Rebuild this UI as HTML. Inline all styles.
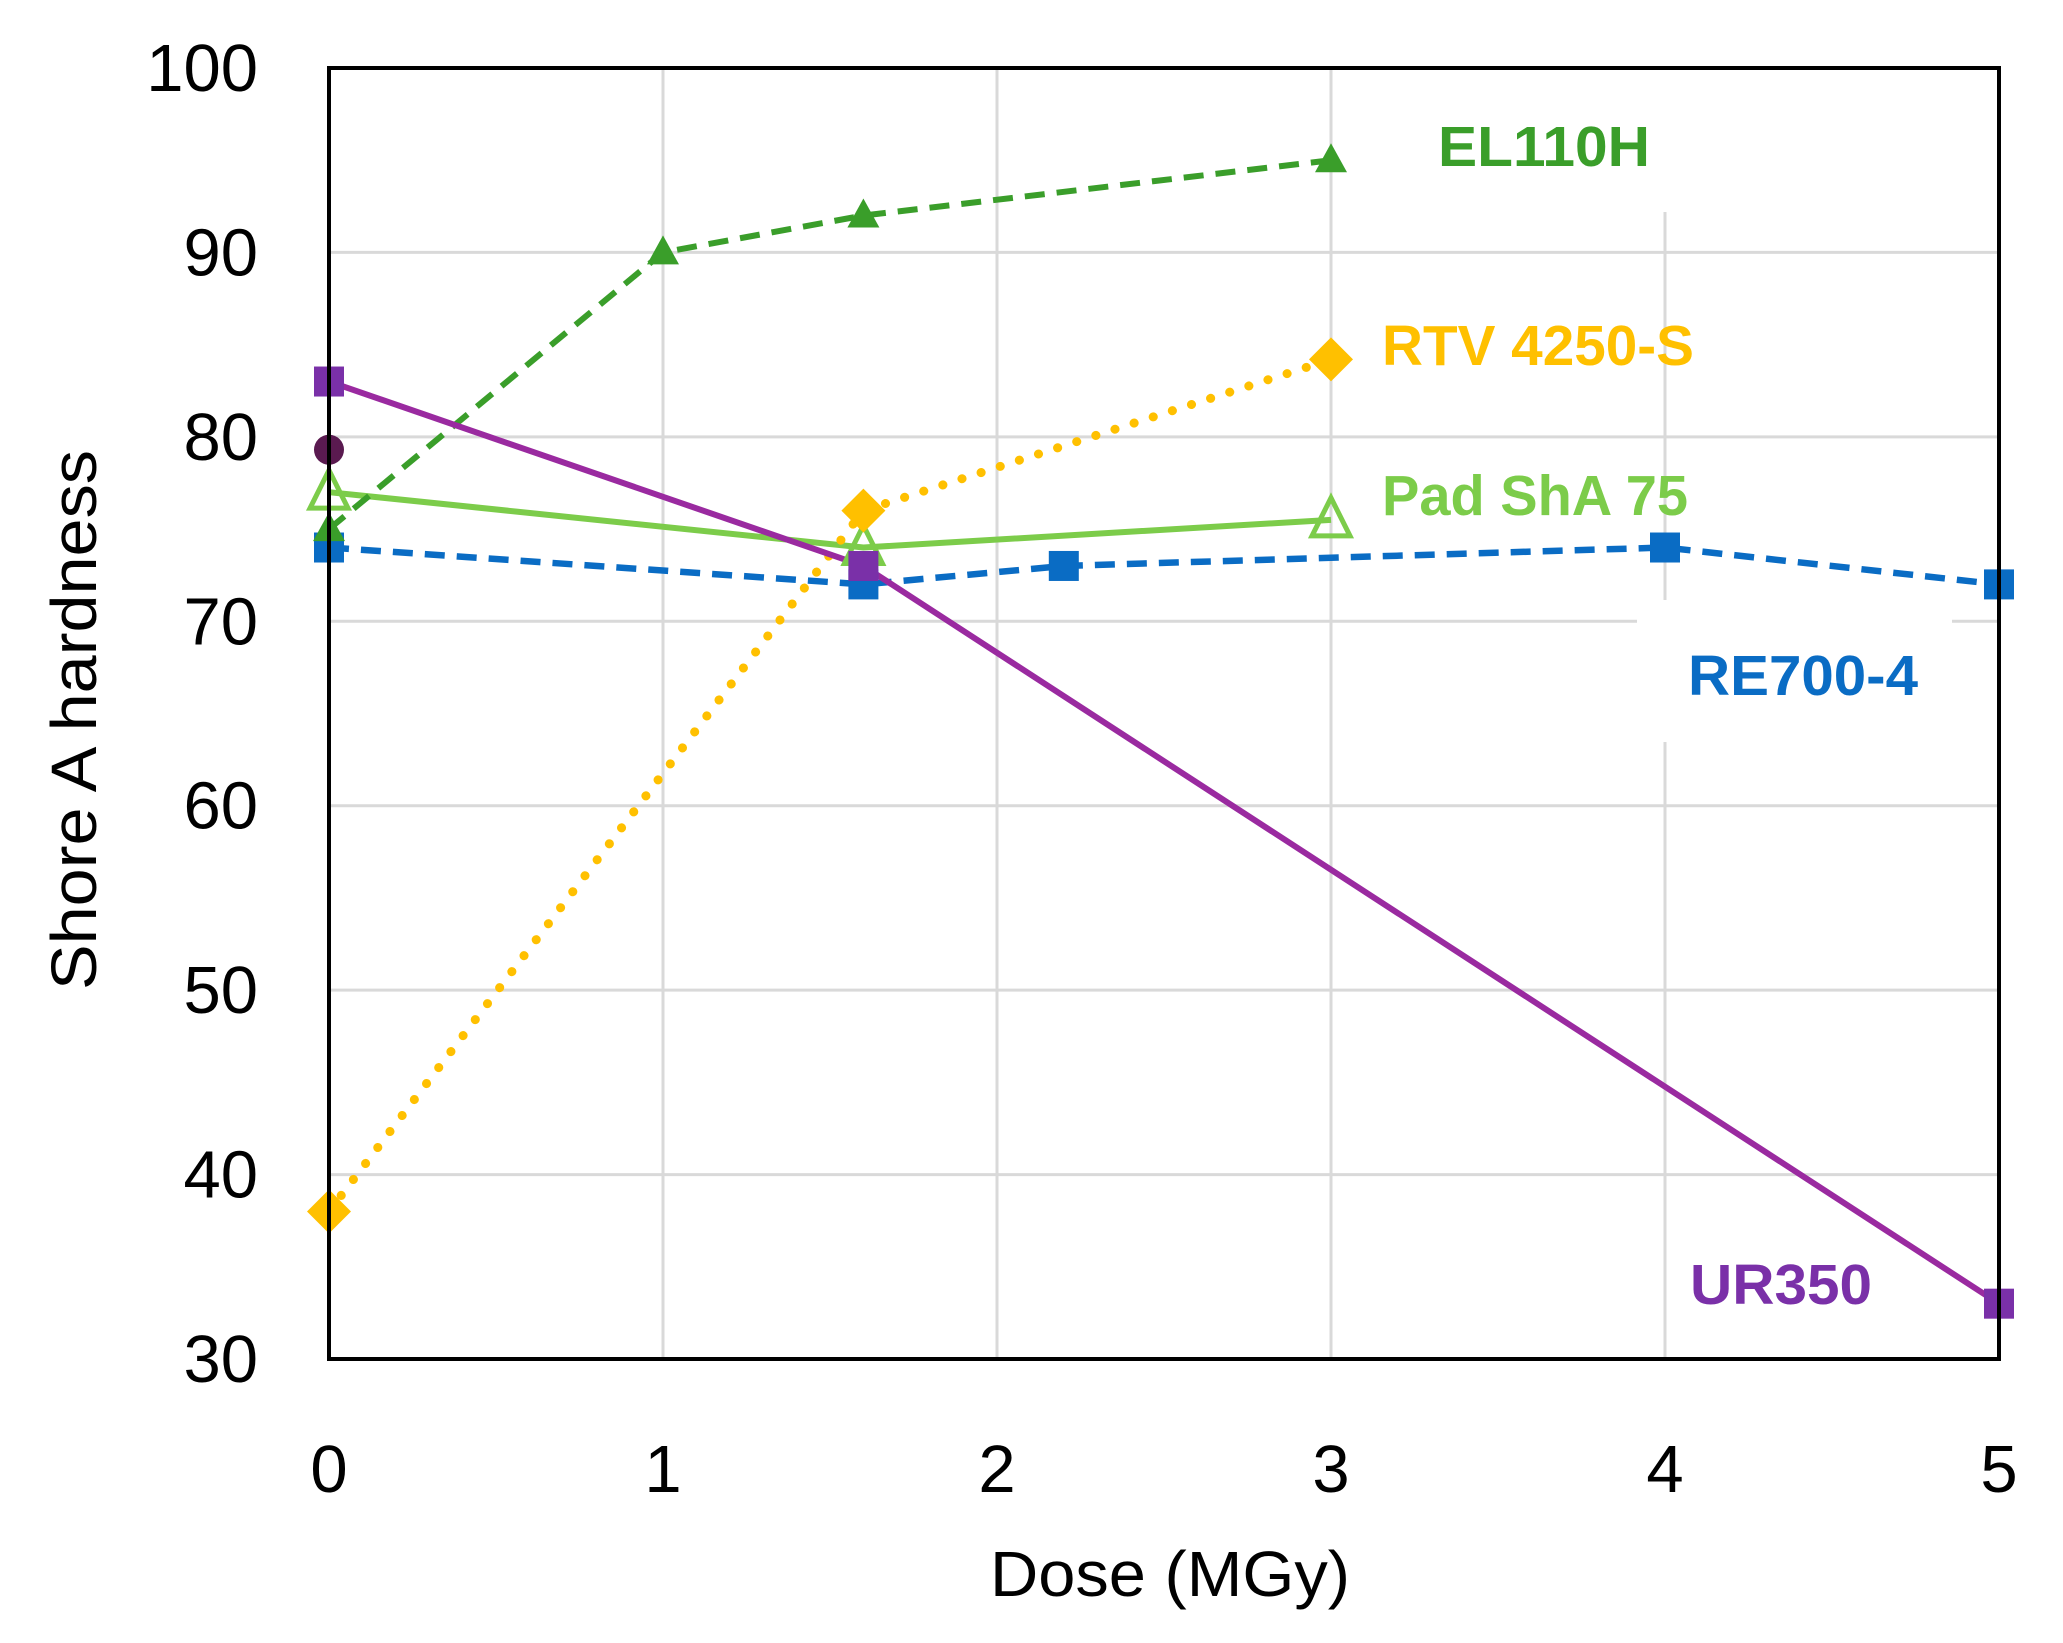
<!DOCTYPE html>
<html><head><meta charset="utf-8"><style>
html,body{margin:0;padding:0;background:#fff}
svg{display:block}
text{font-family:"Liberation Sans",sans-serif}
</style></head><body>
<svg id="chart" width="2063" height="1643" viewBox="0 0 2063 1643" xmlns="http://www.w3.org/2000/svg">
<g id="grid"></g>
<g id="series"></g>
<g id="axes"></g>
</svg>
<script>
const xTicks=[0,1,2,3,4,5];
const yTicks=[30,40,50,60,70,80,90,100];
const elX=[0,1,1.6,3]; const elY=[75,90,92,95];
const rtvX=[0,1.6,3]; const rtvY=[38,76,84.2];
const padX=[0,1.6,3]; const padY=[77,74,75.5];
const reX=[0,1.6,2.2,4,5]; const reY=[74,72,73,74,72];
const urX=[0,1.6,5]; const urY=[83,73,33];
const extraX=[0]; const extraY=[79.3];

const L=329,R=1999,T=68,B=1359;
const sx=v=>L+(v-0)/(5-0)*(R-L);
const sy=v=>B-(v-30)/(100-30)*(B-T);
const NS="http://www.w3.org/2000/svg";
function mk(tag,attrs,parent){const e=document.createElementNS(NS,tag);for(const k in attrs)e.setAttribute(k,attrs[k]);parent.appendChild(e);return e;}
const grid=document.getElementById('grid'),ser=document.getElementById('series'),axes=document.getElementById('axes');

yTicks.forEach(v=>{
  const l=mk('line',{x1:L,x2:R,y1:sy(v),y2:sy(v),stroke:'#d9d9d9','stroke-width':3},grid);
  
  
  const t=mk('text',{x:258,y:sy(v)+23,'text-anchor':'end','font-size':67,fill:'#000'},axes);
  t.textContent=v;
  
  
});
xTicks.forEach(v=>{
  const l=mk('line',{x1:sx(v),x2:sx(v),y1:T,y2:B,stroke:'#d9d9d9','stroke-width':3},grid);
  
  
  const t=mk('text',{x:sx(v),y:1492,'text-anchor':'middle','font-size':67,fill:'#000'},axes);
  t.textContent=v;
  
  
});
[[1637,600,315,40],[1645,612,40,130],[1645,68,40,144]].forEach(r=>{
  const m=mk('rect',{x:r[0],y:r[1],width:r[2],height:r[3],fill:'#fff'},grid);
  
  
});

function line(xs,ys,color,w,dash,name,cap){
  const p=mk('polyline',{points:xs.map((x,i)=>sx(x)+','+sy(ys[i])).join(' '),fill:'none',stroke:color,'stroke-width':w,'stroke-dasharray':dash||'none','stroke-linecap':cap||'butt'},ser);
  
  
}
function marker(kind,x,y,color,name){
  let e;const cx=sx(x),cy=sy(y);
  if(kind==='sq') e=mk('rect',{x:cx-15,y:cy-15,width:30,height:30,fill:color},ser);
  else if(kind==='dia') e=mk('polygon',{points:`${cx},${cy-22} ${cx+22},${cy} ${cx},${cy+22} ${cx-22},${cy}`,fill:color},ser);
  else if(kind==='tri') e=mk('polygon',{points:`${cx},${cy-17} ${cx+16},${cy+12} ${cx-16},${cy+12}`,fill:color},ser);
  else if(kind==='otri') e=mk('polygon',{points:`${cx},${cy-22} ${cx+19},${cy+16} ${cx-19},${cy+16}`,fill:'none',stroke:color,'stroke-width':5},ser);
  else e=mk('circle',{cx:cx,cy:cy,r:15,fill:color},ser);
  
  
}
line(reX,reY,'#0a6cc4',6.5,'20 12','re700-4-line');
line(padX,padY,'#7ccc4a',6,null,'pad-sha75-line');
line(elX,elY,'#3a9e2a',6,'20 12','el110h-line');
line(rtvX,rtvY,'#ffc000',9,'0.1 20','rtv4250s-line','round');
line(urX,urY,'#9a2aa0',6,null,'ur350-line');
reX.forEach((x,i)=>marker('sq',x,reY[i],'#0a6cc4','re700-4-point'));
padX.forEach((x,i)=>marker('otri',x,padY[i],'#7ccc4a','pad-sha75-point'));
elX.forEach((x,i)=>marker('tri',x,elY[i],'#3a9e2a','el110h-point'));
rtvX.forEach((x,i)=>marker('dia',x,rtvY[i],'#ffc000','rtv4250s-point'));
urX.forEach((x,i)=>marker('sq',x,urY[i],'#7a30a8','ur350-point'));
extraX.forEach((x,i)=>marker('circ',x,extraY[i],'#5a1a50','extra-point'));

const frame=mk('rect',{x:L,y:T,width:R-L,height:B-T,fill:'none',stroke:'#000','stroke-width':4},axes);



const labels=[['EL110H',1438,166,'#3a9e2a','label-el110h',212],['RTV 4250-S',1382,365,'#ffc000','label-rtv4250s',312],['Pad ShA 75',1382,515,'#7ccc4a','label-pad-sha75',306],['RE700-4',1688,695,'#0a6cc4','label-re700-4',230],['UR350',1690,1304,'#7a30a8','label-ur350',182]];
labels.forEach(a=>{
  const t=mk('text',{x:a[1],y:a[2],'font-size':57,'font-weight':'bold',fill:a[3],textLength:a[5],lengthAdjust:'spacingAndGlyphs'},axes);
  t.textContent=a[0];
  
  
});
const xt=mk('text',{x:1170,y:1596,'text-anchor':'middle','font-size':64,fill:'#000',textLength:360,lengthAdjust:'spacingAndGlyphs'},axes);
xt.textContent='Dose (MGy)';


const yt=mk('text',{x:0,y:0,'text-anchor':'middle','font-size':64,fill:'#000',textLength:540,lengthAdjust:'spacingAndGlyphs',transform:'translate(96,720) rotate(-90)'},axes);
yt.textContent='Shore A hardness';


</script>
</body></html>
